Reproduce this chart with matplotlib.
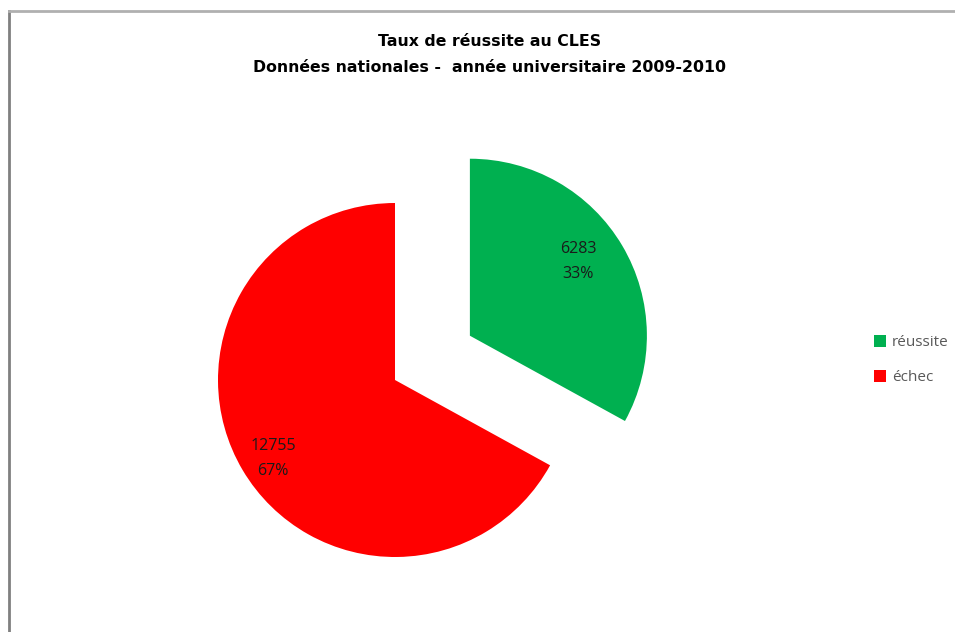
import matplotlib.pyplot as plt
import numpy as np
from matplotlib.lines import Line2D
from matplotlib.patches import Patch

# data
labels = ['réussite', 'échec']
counts = [6283, 12755]
colors = ['#00B050', '#FF0000']

fig = plt.figure(figsize=[9.55, 6.32], dpi=100)
ax = fig.add_axes([0, 0, 1, 1])

total = sum(counts)


def fmt(pct):
    n = int(round(pct * total / 100.0))
    return '%d\n%.0f%%' % (n, pct)


# pie drawn in pixel-like data units; explode is in data units here
wedges = ax.pie(counts, colors=colors, startangle=90, counterclock=False,
                explode=[87, 0], radius=177, center=(395, 252),
                wedgeprops={'linewidth': 0}, frame=True)[0]

# count + percent labels inside each slice (distance, angle nudge in degrees)
for w, n, d, da in zip(wedges, counts, [0.76, 0.8], [6, 0]):
    mid = np.deg2rad((w.theta1 + w.theta2) / 2 + da)
    cx, cy = w.center
    pct = 100.0 * n / total
    ax.text(cx + d * w.r * np.cos(mid), cy + d * w.r * np.sin(mid) - 6, fmt(pct),
            ha='center', va='center', fontsize=11.5, color='#1a1a1a',
            family='Open Sans', linespacing=1.75)

ax.set_xlim(0, 955)
ax.set_ylim(0, 632)
ax.set_aspect('equal')
ax.axis('off')

# title
fig.text(0.513, 1 - 42 / 632, 'Taux de réussite au CLES', ha='center', va='center',
         fontsize=11.3, fontweight='bold')
fig.text(0.513, 1 - 68 / 632, 'Données nationales -  année universitaire 2009-2010',
         ha='center', va='center', fontsize=11.3, fontweight='bold')

# legend
handles = [Patch(facecolor=c, edgecolor='none') for c in colors]
leg = fig.legend(handles, labels, loc='center left', bbox_to_anchor=(860 / 955, 1 - 360 / 632),
                 frameon=False, handlelength=0.8, handleheight=0.8, handletextpad=0.4,
                 labelspacing=1.3, prop={'family': 'Open Sans', 'size': 11})
for t in leg.get_texts():
    t.set_color('#595959')

# chart border
fig.add_artist(Line2D([9 / 955, 9 / 955], [0, 1 - 11 / 632], color='#808080', lw=2))
fig.add_artist(Line2D([9 / 955, 1], [1 - 11 / 632, 1 - 11 / 632], color='#b0b0b0', lw=2))

plt.savefig('out.png', dpi=100)
